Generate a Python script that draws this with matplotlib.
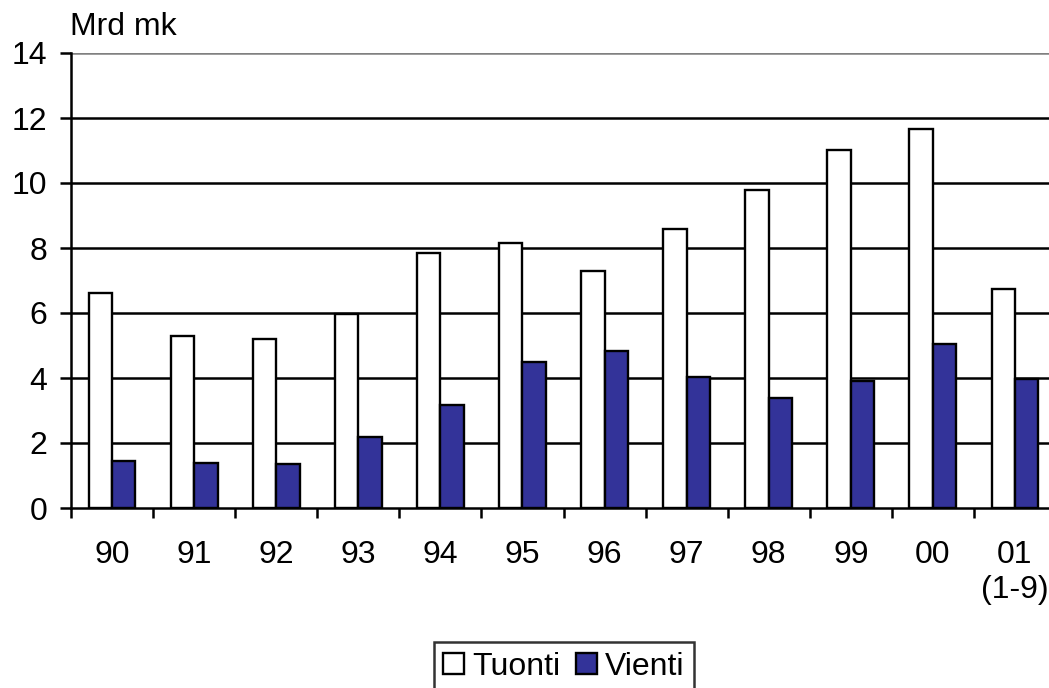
import matplotlib
matplotlib.use('Agg')
import numpy as np
import matplotlib.pyplot as plt
from matplotlib.patches import Patch

plt.rcParams['font.family'] = ['Liberation Sans', 'DejaVu Sans']

years = ['90', '91', '92', '93', '94', '95', '96', '97', '98', '99', '00', '01\n(1-9)']
tuonti = [6.62, 5.28, 5.19, 5.98, 7.85, 8.15, 7.3, 8.58, 9.77, 11.03, 11.67, 6.74]
vienti = [1.45, 1.37, 1.36, 2.18, 3.17, 4.49, 4.83, 4.02, 3.37, 3.9, 5.06, 3.98]

W, H = 1049, 688
FS = 23
fig = plt.figure(figsize=(W / 100, H / 100), dpi=100)
ax = fig.add_axes([71 / W, 1 - 508 / H, (1056 - 71) / W, (508 - 53) / H])

x = np.arange(len(years))
bw = 1 / 3.5
ax.bar(x - bw / 2, tuonti, bw, color='white', edgecolor='black', linewidth=1.7, zorder=3)
ax.bar(x + bw / 2, vienti, bw, color='#333399', edgecolor='black', linewidth=1.7, zorder=3)

ax.set_ylim(0, 14)
ax.set_xlim(-0.5, len(years) - 0.5)
ax.set_yticks(range(0, 15, 2))
for v in range(2, 15, 2):
    ax.axhline(v, color='#808080' if v == 14 else 'black', linewidth=1.8, zorder=1)

ax.set_xticks(x)
ax.set_xticklabels(years)
ax.set_xticks(np.arange(-0.5, len(years)), minor=True)
ax.tick_params(axis='x', which='major', length=0, pad=23, labelsize=FS)
ax.tick_params(axis='x', which='minor', length=7, width=1.8, direction='out')
ax.tick_params(axis='y', length=8, width=1.8, pad=9, labelsize=FS)

for s in ['top', 'right']:
    ax.spines[s].set_visible(False)
ax.spines['left'].set_linewidth(1.8)
ax.spines['bottom'].set_linewidth(1.8)
ax.spines['bottom'].set_zorder(4)

fig.text(70 / W, 1 - 35 / H, 'Mrd mk', fontsize=FS, va='baseline')

handles = [Patch(facecolor='white', edgecolor='black', linewidth=1.7, label='Tuonti'),
           Patch(facecolor='#333399', edgecolor='black', linewidth=1.7, label='Vienti')]
leg = fig.legend(handles=handles, loc='upper center', bbox_to_anchor=(564 / W, 1 - 642 / H),
                 ncol=2, fontsize=FS, frameon=True, fancybox=False, shadow=False,
                 handlelength=0.65, handleheight=0.65, handletextpad=0.25,
                 columnspacing=0.5, borderpad=0.3, borderaxespad=0)
leg.get_frame().set_edgecolor('black')
leg.get_frame().set_linewidth(1.8)

fig.savefig('out.png', dpi=100)
